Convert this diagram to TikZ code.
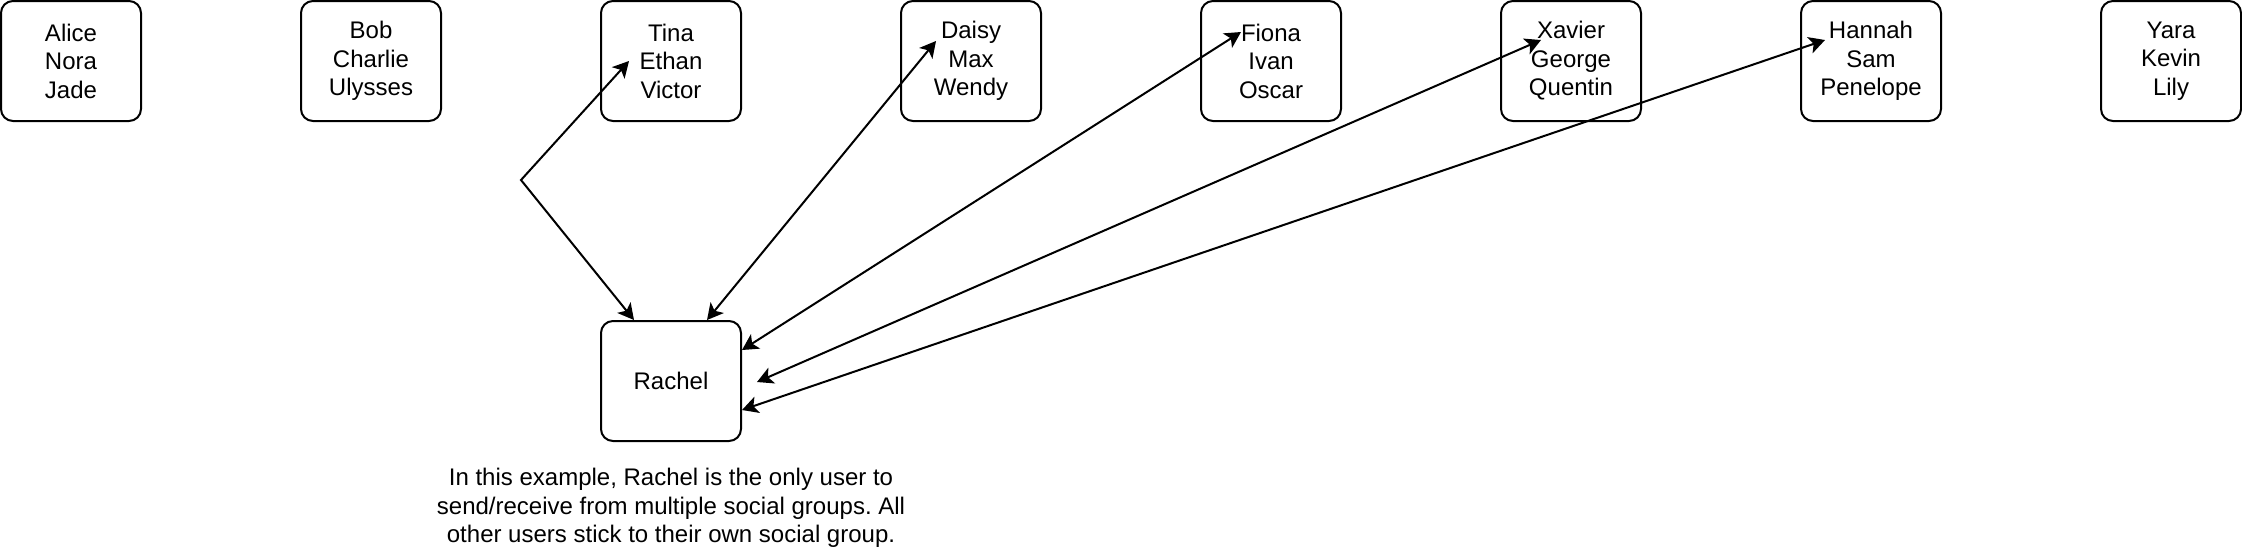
\documentclass[tikz,border=0pt]{standalone}
\usepackage{fontspec}
\setmainfont{Liberation Sans}
\usetikzlibrary{arrows.meta}
\frenchspacing
\begin{document}
\begin{tikzpicture}[x=0.5pt,y=-0.5pt,
  grp/.style={draw, line width=1pt, rounded corners=6pt, minimum width=70pt, minimum height=60pt, inner sep=0pt, align=center, font=\fontsize{12pt}{14.25pt}\selectfont},
  tipa/.tip={Stealth[length=8pt,width=8.5pt,inset=2pt]},
  conn/.style={line width=1pt, tipa-tipa},
  captext/.style={align=center, inner sep=0pt, font=\fontsize{12pt}{14.25pt}\selectfont},
]
\useasboundingbox (0,0) rectangle (2242,554);
\node[grp] (alice)  at (71,61)   {Alice\\Nora\\Jade};
\node[grp] (bob)    at (371,61)  {Bob\\Charlie\\Ulysses};
\node[grp] (tina)   at (671,61)  {Tina\\Ethan\\Victor};
\node[grp] (daisy)  at (971,61)  {Daisy\\Max\\Wendy};
\node[grp] (fiona)  at (1271,61) {Fiona\\Ivan\\Oscar};
\node[grp] (xavier) at (1571,61) {Xavier\\George\\Quentin};
\node[grp] (hannah) at (1871,61) {Hannah\\Sam\\Penelope};
\node[grp] (yara)   at (2171,61) {Yara\\Kevin\\Lily};
\node[grp] (rachel) at (671,381) {Rachel};
\node[captext] (cap) at (671,508) {In this example, Rachel is the only user to\\send/receive from multiple social groups. All\\other users stick to their own social group.};
\coordinate (bend) at (521,180);
\draw[conn] ([shift={(-37,-61)}]rachel.center) -- (bend) -- ([shift={(-42,0)}]tina.center);
\draw[conn] ([shift={(36,-61)}]rachel.center) -- ([shift={(-35,-20)}]daisy.center);
\draw[conn] ([shift={(71,-31)}]rachel.center) -- ([shift={(-30,-29)}]fiona.center);
\draw[conn] ([shift={(86,1)}]rachel.center) -- ([shift={(-30,-21)}]xavier.center);
\draw[conn] ([shift={(71,29)}]rachel.center) -- ([shift={(-46,-21)}]hannah.center);
\end{tikzpicture}
\end{document}
